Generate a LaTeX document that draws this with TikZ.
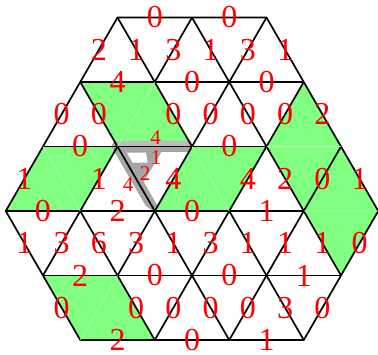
\documentclass[tikz,border=0pt]{standalone}
\usepackage{fontspec}
\setmainfont{Liberation Serif}
\definecolor{lgreen}{RGB}{128,255,128}
\definecolor{faintline}{RGB}{175,250,175}
\definecolor{gband}{RGB}{166,166,166}
\definecolor{gbandlight}{RGB}{188,188,188}
\tikzset{
  lab/.style={text=red, inner sep=0pt, font=\fontsize{32}{32}\selectfont},
  slab/.style={text=red, inner sep=0pt, font=\fontsize{21}{21}\selectfont},
  grid/.style={line width=1.7pt, line join=miter},
  inner/.style={faintline, line width=0.7pt},
  tile/.style={fill=lgreen}
}
\begin{document}
\begin{tikzpicture}[x=37.25pt,y=-64.5pt]
\useasboundingbox (-0.15436,-0.27132) rectangle (9.99329,5.21705);
% green lozenges
\fill[tile] (2,1)--(4,1)--(5,2)--(3,2)--cycle;
\fill[tile] (1,2)--(3,2)--(2,3)--(0,3)--cycle;
\fill[tile] (5,2)--(7,2)--(6,3)--(4,3)--cycle;
\fill[tile] (8,1)--(9,2)--(8,3)--(7,2)--cycle;
\fill[tile] (9,2)--(10,3)--(9,4)--(8,3)--cycle;
\fill[tile] (1,4)--(3,4)--(4,5)--(2,5)--cycle;
% grey gadget (pixel coordinates)
\begin{scope}[shift={(-0.15436,-0.27132)},x=1pt,y=-1pt]
  \fill[gband] (114,141) -- (190.5,141) -- (192.8,146.5) -- (155,212.5) -- (145.5,205.5) -- (111.5,146.5) -- cycle;
  \fill[gbandlight] (115,141) rectangle (190,145.5);
  \fill[white] (126.8,152.5) -- (146,152.5) -- (147.5,162.5) -- (132.6,162.5) -- cycle;
  \fill[white] (161.5,152) -- (188.8,152) -- (157.7,205.8) -- (143.9,181.8) -- cycle;
\end{scope}
% black grid
\draw[grid] (3,0)--(7,0)--(10,3)--(8,5)--(2,5)--(0,3)--cycle;
\draw[grid] (2,1)--(8,1) (1,2)--(7,2) (0,3)--(8,3) (1,4)--(9,4);
\draw[grid] (2,3)--(4,5) (2,1)--(6,5) (3,0)--(5,2) (6,3)--(8,5) (5,0)--(9,4);
\draw[grid] (5,0)--(4,1) (3,2)--(1,4) (7,0)--(3,4) (8,1)--(4,5) (9,2)--(6,5);
% faint inner edges of lozenges
\draw[inner] (4,1)--(3,2) (1,2)--(2,3) (5,2)--(6,3) (7,2)--(9,2) (8,3)--(10,3) (3,4)--(2,5);
% edge labels
\foreach \k/\r/\t [count=\i] in {
  4/0/0, 6/0/0,
  2.5/0.5/2, 3.5/0.5/1, 4.5/0.5/3, 5.5/0.5/1, 6.5/0.5/3, 7.5/0.5/1,
  3/1/4, 5/1/0, 7/1/0,
  1.5/1.5/0, 2.5/1.5/0, 4.5/1.5/0, 5.5/1.5/0, 6.5/1.5/0, 7.5/1.5/0, 8.5/1.5/2,
  2/2/0, 6/2/0,
  0.5/2.5/1, 2.5/2.5/1, 4.5/2.5/4, 6.5/2.5/4, 7.5/2.5/2, 8.5/2.5/0, 9.5/2.5/1,
  1/3/0, 3/3/2, 5/3/0, 7/3/1,
  0.5/3.5/1, 1.5/3.5/3, 2.5/3.5/6, 3.5/3.5/3, 4.5/3.5/1, 5.5/3.5/3, 6.5/3.5/1, 7.5/3.5/1, 8.5/3.5/1, 9.5/3.5/0,
  2/4/2, 4/4/0, 6/4/0, 8/4/1,
  1.5/4.5/0, 3.5/4.5/0, 4.5/4.5/0, 5.5/4.5/0, 6.5/4.5/0, 7.5/4.5/3, 8.5/4.5/0,
  3/5/2, 5/5/0, 7/5/1}
  \node[lab] (e\i) at (\k,\r) {\t};
% small labels on the grey triangle
\begin{scope}[shift={(-0.15436,-0.27132)},x=1pt,y=-1pt]
  \node[slab] (s1) at (155.5,137.5) {4};
  \node[slab] (s2) at (156,158) {1};
  \node[slab] (s3) at (145,174) {2};
  \node[slab] (s4) at (128,184.5) {4};
\end{scope}
\end{tikzpicture}
\end{document}
